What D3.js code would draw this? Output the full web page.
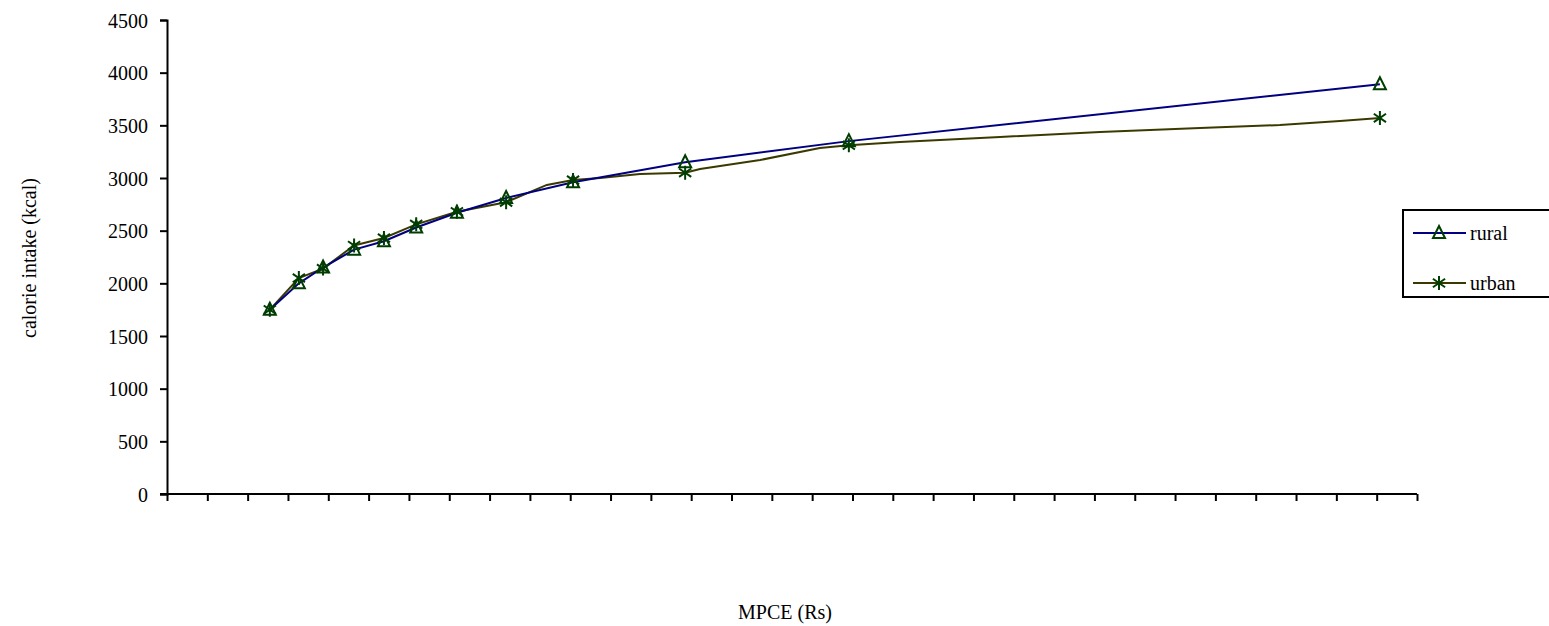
<!DOCTYPE html>
<html><head><meta charset="utf-8">
<script src="https://cdn.jsdelivr.net/npm/d3@7"></script>
<style>
html,body{margin:0;padding:0;background:#fff;}
</style></head>
<body>
<svg id="chart" width="1549" height="626"></svg>
<script>
// ---- data (MPCE in Rs, calorie intake in kcal) ----
const ruralMpce = [255, 327, 387, 464, 538, 618, 719, 841, 1007, 1285, 1691, 3008];
const ruralCal  = [1750, 2000, 2150, 2320, 2400, 2530, 2670, 2810, 2960, 3150, 3350, 3890];
const urbanMpce = [255, 327, 387, 464, 538, 618, 719, 841, 942, 1007, 1074, 1173, 1285, 1322, 1471, 1619, 1691, 1818, 2066, 2314, 2562, 2760, 2909, 3008];
const urbanCal  = [1750, 2050, 2140, 2360, 2430, 2560, 2680, 2770, 2934, 2980, 3000, 3038, 3050, 3085, 3171, 3285, 3310, 3342, 3389, 3437, 3475, 3503, 3541, 3570];
const urbanMarkerMpce = [255, 327, 387, 464, 538, 618, 719, 841, 1007, 1285, 1691, 3008];
const yTicks = [0, 500, 1000, 1500, 2000, 2500, 3000, 3500, 4000, 4500];
const xTicks = d3.range(0, 3101, 100);
const seriesNames = ["rural", "urban"];

const FONT = "'Liberation Serif', 'Times New Roman', Times, serif";
const svg = d3.select("#chart");
const x = d3.scaleLinear().domain([0, 3100]).range([167, 1417]);
const y = d3.scaleLinear().domain([0, 4500]).range([494, 20]);

const rural = ruralMpce.map((m, i) => ({m, c: ruralCal[i], mark: true}));
const urban = urbanMpce.map((m, i) => ({m, c: urbanCal[i], mark: urbanMarkerMpce.includes(m)}));

// axes
const yAxis = svg.append("g").attr("transform", "translate(167,0)")
  .call(d3.axisLeft(y).tickValues(yTicks).tickSize(7).tickPadding(12).tickFormat(d3.format("d")));
yAxis.attr("font-family", FONT).attr("font-size", 20);
yAxis.selectAll("text").attr("fill", "#000").attr("dy", "0.35em");
const xAxis = svg.append("g").attr("transform", "translate(0,494)")
  .call(d3.axisBottom(x).tickValues(xTicks).tickSize(7).tickFormat(""));
[yAxis, xAxis].forEach(g => {
  g.select(".domain").attr("stroke", "#000").attr("stroke-width", 2);
  g.selectAll(".tick line").attr("stroke", "#000").attr("stroke-width", 2);
});
xAxis.select(".domain").attr("d", "M160,0H1417");

// axis titles
svg.append("text").attr("x", 785).attr("y", 619).attr("text-anchor", "middle")
  .attr("font-family", FONT).attr("font-size", 20).text("MPCE (Rs)");
svg.append("text").attr("transform", "translate(36,258) rotate(-90)").attr("text-anchor", "middle")
  .attr("font-family", FONT).attr("font-size", 20).text("calorie intake (kcal)");

const line = d3.line().x(d => x(d.m)).y(d => y(d.c));
const ruralColor = "#000080", urbanColor = "#3a3a00", markColor = "#003d00";

svg.append("path").datum(urban).attr("d", line).attr("fill", "none")
  .attr("stroke", urbanColor).attr("stroke-width", 2);
svg.append("path").datum(rural).attr("d", line).attr("fill", "none")
  .attr("stroke", ruralColor).attr("stroke-width", 2);

function triangle(g, cx, cy) {
  g.append("path").attr("d", `M${cx},${cy-7}L${cx+6},${cy+5}L${cx-6},${cy+5}Z`)
    .attr("fill", "none").attr("stroke", markColor).attr("stroke-width", 2);
}
function star(g, cx, cy) {
  const r = 7;
  g.append("path").attr("d",
    `M${cx},${cy-r}V${cy+r}M${cx-r*0.87},${cy-r*0.6}L${cx+r*0.87},${cy+r*0.6}M${cx-r*0.87},${cy+r*0.6}L${cx+r*0.87},${cy-r*0.6}`)
    .attr("fill", "none").attr("stroke", markColor).attr("stroke-width", 2);
}
const mg = svg.append("g");
rural.filter(d => d.mark).forEach(d => triangle(mg, x(d.m), y(d.c)));
urban.filter(d => d.mark).forEach(d => star(mg, x(d.m), y(d.c)));

// legend
const lg = svg.append("g");
lg.append("rect").attr("x", 1403).attr("y", 210).attr("width", 170).attr("height", 87)
  .attr("fill", "#fff").attr("stroke", "#000").attr("stroke-width", 2);
const legY = [233, 283];
seriesNames.forEach((n, i) => {
  lg.append("line").attr("x1", 1413).attr("x2", 1466).attr("y1", legY[i]).attr("y2", legY[i])
    .attr("stroke", i === 0 ? ruralColor : urbanColor).attr("stroke-width", 2);
  if (i === 0) triangle(lg, 1439, legY[i]); else star(lg, 1439, legY[i]);
  lg.append("text").attr("x", 1470).attr("y", legY[i]).attr("dy", "0.35em")
    .attr("font-family", FONT).attr("font-size", 20).attr("fill", "#000").text(n);
});
</script>
</body></html>
